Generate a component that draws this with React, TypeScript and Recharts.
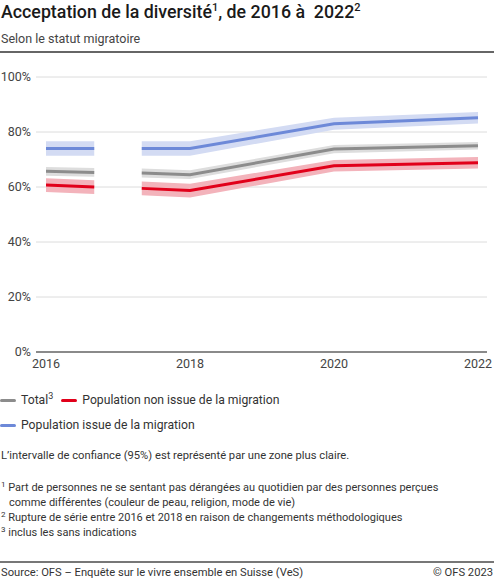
import { ComposedChart, Line, Area, XAxis, YAxis, CartesianGrid } from "recharts";

// x positions: the 2016 survey is drawn as a short flat segment, the series restarts before 2018
const years = [2016, 2016.67, 2017, 2017.33, 2018, 2020, 2022];
const yTicks = [0, 20, 40, 60, 80, 100];
const xTicks = [2016, 2018, 2020, 2022];

const total = [65.7, 65.3, null, 65.1, 64.5, 73.8, 75.0];
const totalLow = [64.1, 63.7, null, 63.5, 62.9, 72.3, 73.6];
const totalHigh = [67.3, 66.9, null, 66.7, 66.1, 75.3, 76.4];

const nonMigrant = [60.7, 60.0, null, 59.5, 58.7, 67.7, 68.8];
const nonMigrantLow = [58.2, 57.5, null, 57.0, 56.2, 65.6, 66.7];
const nonMigrantHigh = [63.2, 62.5, null, 62.0, 61.2, 69.8, 70.9];

const migrant = [74.0, 74.0, null, 74.0, 74.0, 83.0, 85.2];
const migrantLow = [71.4, 71.4, null, 71.4, 71.4, 80.8, 83.1];
const migrantHigh = [76.6, 76.6, null, 76.6, 76.6, 85.2, 87.3];

const band = (lo: (number | null)[], hi: (number | null)[], i: number) =>
    lo[i] == null || hi[i] == null ? null : [lo[i], hi[i]];

const data = years.map((year, i) => ({
    year,
    total: total[i],
    nonMigrant: nonMigrant[i],
    migrant: migrant[i],
    totalBand: band(totalLow, totalHigh, i),
    nonMigrantBand: band(nonMigrantLow, nonMigrantHigh, i),
    migrantBand: band(migrantLow, migrantHigh, i),
}));

const GRAY = "#8c8c8c";
const RED = "#e1001a";
const BLUE = "#6d89d8";

const font = "Roboto, 'Noto Sans', sans-serif";

const Swatch = ({ color }: { color: string }) => (
    <span style={{ display: "inline-block", width: 16, height: 3, borderRadius: 2, background: color, marginRight: 5, verticalAlign: "middle" }} />
);

const Sup = ({ n, size = 8, lift = 4 }: { n: string; size?: number; lift?: number }) => (
    <span style={{ fontSize: size, position: "relative", top: -lift, lineHeight: 0 }}>{n}</span>
);

const App = () => {
    return (
        <div style={{ position: "relative", width: 494, height: 581, fontFamily: font, color: "#333", background: "#fff" }}>
            <style>{"body{margin:0}"}</style>

            <div style={{ position: "absolute", left: 1, top: 1, fontSize: 17.8, fontWeight: 500, color: "#1a1a1a", whiteSpace: "nowrap" }}>
                Acceptation de la diversité<Sup n="1" size={11} lift={7} />, de 2016 à&nbsp; 2022<Sup n="2" size={11} lift={7} />
            </div>
            <div style={{ position: "absolute", left: 1, top: 31, fontSize: 12.5, color: "#444" }}>Selon le statut migratoire</div>
            <div style={{ position: "absolute", left: 0, top: 51, width: 494, height: 2, background: "#666" }} />

            <div style={{ position: "absolute", left: 0, top: 0 }}>
                <ComposedChart width={494} height={380} data={data} margin={{ top: 77, right: 7, left: 0, bottom: 3 }}>
                    <CartesianGrid vertical={false} stroke="#dcdcdc" strokeWidth={1} />

                    <XAxis
                        dataKey="year"
                        type="number"
                        domain={[2016, 2022]}
                        ticks={xTicks}
                        padding={{ left: 10, right: 9 }}
                        height={25}
                        tickLine={false}
                        tickSize={0}
                        axisLine={{ stroke: "#8a8a8a", strokeWidth: 2 }}
                        tick={{ fill: "#444", fontSize: 12.5, fontFamily: font }}
                        tickMargin={7}
                    />
                    <YAxis
                        domain={[0, 100]}
                        ticks={yTicks}
                        width={36}
                        tickLine={false}
                        tickSize={0}
                        axisLine={false}
                        tickFormatter={(v: number) => `${v}%`}
                        tick={{ fill: "#444", fontSize: 12.5, fontFamily: font }}
                        tickMargin={5}
                    />

                    <Area dataKey="migrantBand" stroke="none" fill="#d3dbf3" fillOpacity={1} isAnimationActive={false} connectNulls={false} />
                    <Area dataKey="totalBand" stroke="none" fill="#dddddd" fillOpacity={1} isAnimationActive={false} connectNulls={false} />
                    <Area dataKey="nonMigrantBand" stroke="none" fill="#f3b3bb" fillOpacity={1} isAnimationActive={false} connectNulls={false} />

                    <Line type="linear" dataKey="total" stroke={GRAY} strokeWidth={3} dot={false} isAnimationActive={false} connectNulls={false} />
                    <Line type="linear" dataKey="nonMigrant" stroke={RED} strokeWidth={3} dot={false} isAnimationActive={false} connectNulls={false} />
                    <Line type="linear" dataKey="migrant" stroke={BLUE} strokeWidth={3} dot={false} isAnimationActive={false} connectNulls={false} />
                </ComposedChart>
            </div>

            <div style={{ position: "absolute", left: 0, top: 393, fontSize: 12.2, whiteSpace: "nowrap" }}>
                <Swatch color={GRAY} />Total<Sup n="3" size={9} lift={5} />
                <span style={{ marginLeft: 8 }}><Swatch color={RED} />Population non issue de la migration</span>
            </div>
            <div style={{ position: "absolute", left: 0, top: 418, fontSize: 12.2, whiteSpace: "nowrap" }}>
                <Swatch color={BLUE} />Population issue de la migration
            </div>

            <div style={{ position: "absolute", left: 1, top: 449, fontSize: 11.2, whiteSpace: "nowrap" }}>
                L’intervalle de confiance (95%) est représenté par une zone plus claire.
            </div>

            <div style={{ position: "absolute", left: 1, top: 480, fontSize: 11, lineHeight: "15px", whiteSpace: "nowrap" }}>
                <div><Sup n="1" /> Part de personnes ne se sentant pas dérangées au quotidien par des personnes perçues</div>
                <div style={{ paddingLeft: 8 }}>comme différentes (couleur de peau, religion, mode de vie)</div>
                <div><Sup n="2" /> Rupture de série entre 2016 et 2018 en raison de changements méthodologiques</div>
                <div><Sup n="3" /> inclus les sans indications</div>
            </div>

            <div style={{ position: "absolute", left: 0, top: 561, width: 494, height: 2, background: "#777" }} />
            <div style={{ position: "absolute", left: 1, top: 566, fontSize: 11.2, whiteSpace: "nowrap" }}>
                Source: OFS – Enquête sur le vivre ensemble en Suisse (VeS)
            </div>
            <div style={{ position: "absolute", right: 1, top: 566, fontSize: 11.2, whiteSpace: "nowrap" }}>© OFS 2023</div>
        </div>
    );
};

export default App;
